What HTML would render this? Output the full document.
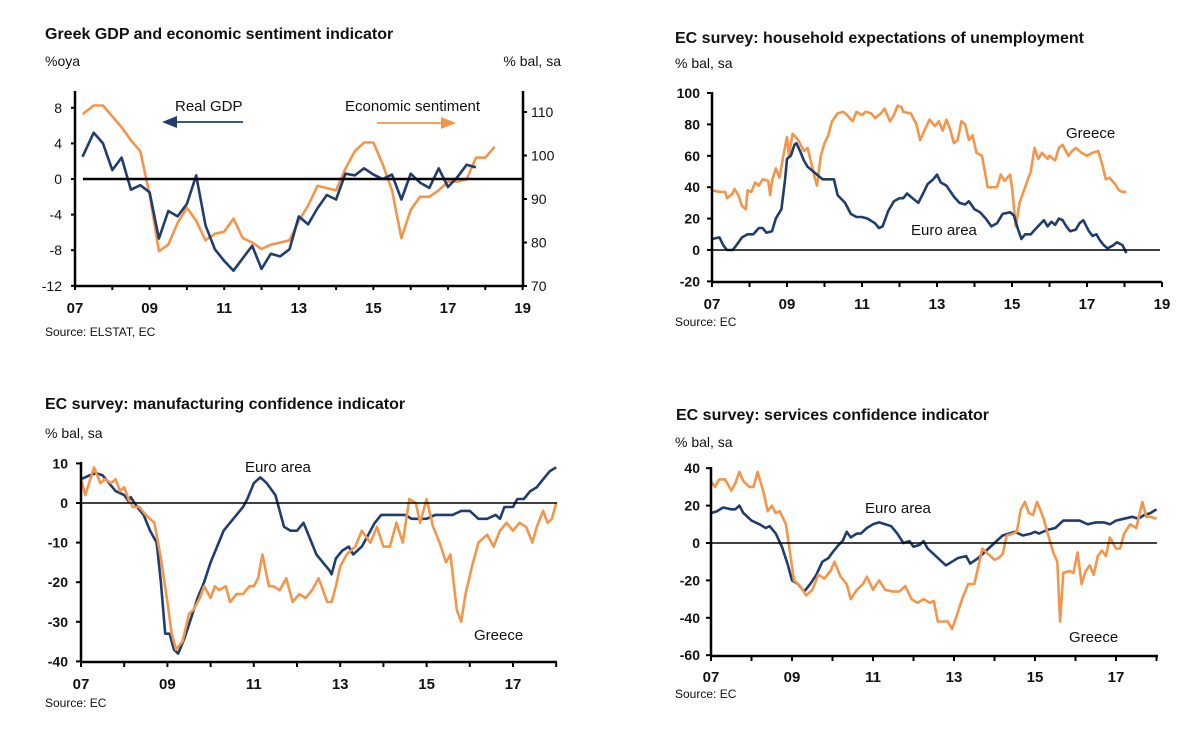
<!DOCTYPE html>
<html><head><meta charset="utf-8">
<style>
html,body{margin:0;padding:0;background:#fff;}
body{width:1200px;height:731px;overflow:hidden;font-family:"Liberation Sans",Arial,sans-serif;}
svg text{font-family:"Liberation Sans",Arial,sans-serif;}
</style></head>
<body>
<svg id="c" width="1200" height="731" viewBox="0 0 1200 731" xmlns="http://www.w3.org/2000/svg"></svg>
<script>
// ---- Panel 1: Greek GDP (quarterly, %oya) and economic sentiment ----
const gdpT = [2007.2,2007.5,2007.75,2008.0,2008.25,2008.5,2008.75,2009.0,2009.25,2009.5,2009.75,2010.0,2010.25,2010.5,2010.75,2011.0,2011.25,2011.5,2011.75,2012.0,2012.25,2012.5,2012.75,2013.0,2013.25,2013.5,2013.75,2014.0,2014.25,2014.5,2014.75,2015.0,2015.25,2015.5,2015.75,2016.0,2016.25,2016.5,2016.75,2017.0,2017.25,2017.5,2017.75];
const gdpV = [2.5,5.2,4.0,1.0,2.4,-1.2,-0.7,-1.5,-6.7,-3.6,-4.2,-2.8,0.4,-5.2,-7.9,-9.2,-10.3,-8.9,-7.5,-10.1,-8.4,-8.7,-7.9,-4.2,-5.1,-3.3,-1.8,-2.3,0.6,0.4,1.2,0.5,0.0,0.5,-2.3,0.6,-0.4,-1.0,1.2,-0.9,0.2,1.6,1.3];
const esiT = [2007.2,2007.5,2007.75,2008.0,2008.25,2008.5,2008.75,2009.0,2009.25,2009.5,2009.75,2010.0,2010.25,2010.5,2010.75,2011.0,2011.25,2011.5,2011.75,2012.0,2012.25,2012.5,2012.75,2013.0,2013.25,2013.5,2013.75,2014.0,2014.25,2014.5,2014.75,2015.0,2015.25,2015.5,2015.75,2016.0,2016.25,2016.5,2016.75,2017.0,2017.25,2017.5,2017.75,2018.0,2018.25];
const esiV = [109.5,111.5,111.5,109,106.5,103.5,101,91,78,79.5,84.5,88,85,80.5,82,82.5,85.5,81,80,78.5,79.5,80,80.5,85,88.5,93,92.5,92,97,101,103,103,98,92,81,87.5,90.5,90.5,92,94,94,94.5,99.5,99.5,102];
const p1LeftTicks = [8,4,0,-4,-8,-12];
const p1RightTicks = [110,100,90,80,70];
const yearTicks = ["07","09","11","13","15","17","19"];

// ---- Panel 2: household unemployment expectations ----
const p2GrT = [7.0,7.2,7.35,7.4,7.55,7.6,7.7,7.8,7.9,7.95,8.05,8.15,8.25,8.35,8.5,8.55,8.6,8.7,8.8,8.9,9.0,9.05,9.15,9.3,9.45,9.55,9.65,9.75,9.8,9.9,10.0,10.1,10.2,10.35,10.5,10.6,10.75,10.85,11.0,11.1,11.25,11.35,11.5,11.6,11.75,11.85,11.95,12.05,12.1,12.3,12.45,12.55,12.7,12.8,12.95,13.05,13.15,13.25,13.35,13.45,13.55,13.65,13.75,13.85,13.95,14.05,14.2,14.35,14.5,14.6,14.7,14.8,14.95,15.0,15.1,15.2,15.35,15.5,15.6,15.7,15.8,15.95,16.0,16.15,16.25,16.35,16.5,16.6,16.7,16.85,17.0,17.15,17.3,17.4,17.5,17.6,17.75,17.85,17.95,18.05];
const p2GrV = [38,37,37,33,36,39,35,28,26,38,37,43,41,45,44,35,44,52,46,60,72,60,74,70,63,65,55,45,41,60,68,73,82,87,88,86,82,88,86,88,87,84,87,90,82,86,92,91,88,87,80,70,78,83,79,82,76,83,77,68,70,82,80,70,73,62,60,40,40,40,48,44,48,40,15,30,40,50,65,58,62,58,60,57,65,67,60,63,65,62,60,62,63,55,45,46,42,38,37,37];
const p2EaT = [7.0,7.2,7.3,7.4,7.55,7.65,7.8,7.95,8.1,8.25,8.35,8.45,8.6,8.7,8.85,8.95,9.0,9.1,9.2,9.25,9.35,9.45,9.55,9.7,9.85,9.95,10.1,10.25,10.35,10.55,10.7,10.85,11.0,11.15,11.35,11.45,11.55,11.7,11.85,12.0,12.1,12.2,12.35,12.5,12.65,12.75,12.9,13.0,13.1,13.25,13.45,13.6,13.75,13.85,14.0,14.15,14.3,14.45,14.6,14.75,14.95,15.05,15.15,15.25,15.35,15.5,15.65,15.85,15.95,16.05,16.15,16.25,16.35,16.45,16.55,16.7,16.8,16.9,17.05,17.15,17.25,17.35,17.45,17.55,17.7,17.8,17.95,18.05];
const p2EaV = [7,8,3,0,0,3,8,10,10,14,14,11,12,20,26,45,58,60,67,68,63,57,53,50,47,45,45,45,35,30,23,21,21,20,17,14,15,25,31,33,33,36,33,30,37,42,45,48,43,41,34,30,29,31,26,24,20,15,17,23,24,22,14,7,10,10,14,19,15,18,16,20,19,15,12,13,17,19,12,9,10,6,3,1,3,5,3,-2];
const p2Ticks = [100,80,60,40,20,0,-20];

// ---- Panel 3: manufacturing confidence ----
const p3EaT = [7.0,7.2,7.35,7.5,7.65,7.8,8.0,8.1,8.15,8.3,8.45,8.6,8.75,8.85,8.95,9.05,9.15,9.25,9.4,9.55,9.7,9.85,10.0,10.15,10.3,10.45,10.6,10.75,10.85,11.0,11.15,11.3,11.5,11.6,11.7,11.85,12.0,12.15,12.3,12.45,12.6,12.75,12.8,12.9,13.05,13.2,13.3,13.5,13.65,13.8,13.95,14.1,14.3,14.5,14.65,14.85,15.0,15.2,15.4,15.6,15.8,16.0,16.2,16.4,16.6,16.7,16.8,17.0,17.1,17.25,17.4,17.55,17.7,17.85,18.0];
const p3EaV = [6,7,7.5,7,5,3,2,0.5,1.5,-1,-3,-7,-10,-20,-33,-33,-37,-38,-34,-29,-24,-20,-15,-11,-7,-5,-3,-1,1,5,6.5,5,2,-2,-6,-7,-7,-5,-9,-13,-15,-17,-18,-14,-12,-11,-13,-11,-8,-5,-3,-3,-3,-3,-4,-4,-4,-3,-3,-3,-2,-2,-4,-4,-3,-4,-1,-1,1,1,3,4,6,8,9];
const p3GrT = [7.0,7.1,7.3,7.45,7.55,7.7,7.8,7.9,8.0,8.1,8.2,8.35,8.5,8.7,8.85,9.0,9.1,9.2,9.35,9.5,9.6,9.75,9.85,10.0,10.1,10.2,10.35,10.45,10.6,10.75,10.9,11.0,11.1,11.2,11.35,11.45,11.6,11.75,11.9,12.05,12.2,12.35,12.5,12.7,12.8,12.9,13.0,13.15,13.35,13.5,13.7,13.85,14.0,14.15,14.3,14.45,14.6,14.75,14.85,15.0,15.15,15.3,15.45,15.55,15.7,15.8,15.9,16.05,16.2,16.4,16.55,16.7,16.85,17.0,17.15,17.3,17.45,17.55,17.7,17.8,17.9,18.0];
const p3GrV = [6,2,9,5,6,5,6,3,4,1,-1,-1,-3,-5,-14,-25,-33,-37,-35,-28,-27,-24,-21,-24,-21,-22,-21,-25,-23,-23,-21,-21,-19,-13,-21,-21,-22,-19,-25,-23,-24,-22,-19,-25,-25,-21,-16,-13,-11,-7,-10,-6,-11,-11,-5,-10,1,0,-5,1,-6,-10,-15,-13,-27,-30,-23,-16,-10,-8,-11,-7,-5,-7,-5,-6,-10,-6,-2,-5,-4,0];
const p3Ticks = [10,0,-10,-20,-30,-40];
const yearTicks2 = ["07","09","11","13","15","17"];

// ---- Panel 4: services confidence ----
const p4EaT = [7.0,7.15,7.3,7.5,7.6,7.7,7.8,8.0,8.2,8.35,8.45,8.6,8.75,8.9,9.0,9.15,9.3,9.45,9.6,9.75,9.9,10.0,10.15,10.25,10.35,10.45,10.6,10.7,10.85,11.0,11.15,11.3,11.45,11.6,11.75,11.9,12.0,12.15,12.25,12.35,12.5,12.65,12.8,12.95,13.1,13.3,13.4,13.6,13.8,14.0,14.2,14.35,14.5,14.7,14.9,15.0,15.1,15.3,15.5,15.7,15.9,16.1,16.3,16.5,16.7,16.85,17.0,17.2,17.4,17.55,17.7,17.85,18.0];
const p4EaV = [16,17,19,18,18,20,16,12,10,8,9,5,-2,-12,-20,-22,-26,-22,-17,-10,-8,-5,-1,1,6,3,5,5,8,10,11,10,9,5,0,1,-2,-1,1,-3,-6,-9,-12,-10,-8,-7,-11,-8,-4,0,4,5,6,4,5,6,5,7,8,12,12,12,10,11,11,10,12,13,14,13,15,16,18];
const p4GrT = [7.0,7.1,7.2,7.35,7.5,7.6,7.7,7.8,7.95,8.05,8.15,8.3,8.4,8.5,8.6,8.7,8.85,8.95,9.05,9.2,9.35,9.5,9.65,9.8,9.95,10.05,10.2,10.35,10.45,10.6,10.75,10.85,11.0,11.15,11.3,11.5,11.65,11.8,11.95,12.1,12.25,12.4,12.5,12.6,12.75,12.85,12.95,13.05,13.2,13.35,13.5,13.7,13.85,14.0,14.1,14.2,14.3,14.45,14.55,14.65,14.75,14.85,14.95,15.05,15.2,15.3,15.45,15.55,15.62,15.7,15.85,15.95,16.05,16.15,16.25,16.35,16.45,16.55,16.65,16.75,16.85,17.0,17.1,17.2,17.35,17.5,17.65,17.75,17.85,18.0];
const p4GrV = [33,30,34,34,28,32,38,33,30,30,38,27,17,20,16,17,10,-5,-20,-23,-28,-25,-17,-19,-15,-10,-18,-22,-30,-25,-22,-18,-25,-20,-25,-26,-26,-23,-30,-32,-30,-32,-31,-42,-42,-42,-46,-40,-30,-22,-22,-3,-6,-9,-8,-6,4,5,6,18,22,16,15,22,14,6,-5,-10,-42,-16,-15,-16,-5,-22,-15,-12,-17,-7,-4,-7,3,-3,-3,5,10,8,22,14,14,13];
const p4Ticks = [40,20,0,-20,-40,-60];

const NAVY = "#1f3d6e", ORANGE = "#f5954a";
const svg = document.getElementById('c');
const NS = "http://www.w3.org/2000/svg";
function mk(tag, attrs, parent){
  const e = document.createElementNS(NS, tag);
  for (const k in attrs) e.setAttribute(k, attrs[k]);
  (parent||svg).appendChild(e);
  return e;
}
function txt(x,y,s,size,anchor,weight,name){
  const t = mk('text',{x:x,y:y,'font-size':size,'text-anchor':anchor||'start','font-weight':weight||'normal',fill:'#111'});
  t.textContent = s;
  
  
  return t;
}
function line(x1,y1,x2,y2,w,col,name){
  const l = mk('line',{x1:x1,y1:y1,x2:x2,y2:y2,stroke:col||'#000','stroke-width':w});
  
  
  return l;
}
function series(ts, vs, xf, yf, col, name){
  let d = '';
  for (let i=0;i<ts.length;i++) d += (i?'L':'M') + xf(ts[i]).toFixed(1) + ' ' + yf(vs[i]).toFixed(1);
  const p = mk('path',{d:d,fill:'none',stroke:col,'stroke-width':2.6,'stroke-linejoin':'round'});
  
  
  return p;
}

// ===== Panel 1 =====
{
  const x0=75, pxy=37.3;
  const xf = t => x0 + (t-2007)*pxy;
  const yl = v => 179 - v*8.9;
  const yr = v => 286 - (v-70)*4.35;
  txt(45,39,"Greek GDP and economic sentiment indicator",16,'start','bold','p1-title');
  txt(45,66,"%oya",14,'start','normal','p1-left-unit');
  txt(561,66,"% bal, sa",14,'end','normal','p1-right-unit');
  series(esiT, esiV, xf, yr, ORANGE, 'p1-sentiment-line');
  series(gdpT, gdpV, xf, yl, NAVY, 'p1-gdp-line');
  line(83,yl(0),522,yl(0),2.5,'#000','p1-zero-line');
  line(75,91,75,286,2.5,'#000','p1-left-axis');
  line(523,91,523,287,2.5,'#000','p1-right-axis');
  line(74,286,524,286,2.5,'#000','p1-x-axis');
  p1LeftTicks.forEach(v=>{ line(71,yl(v),75,yl(v),2,'#000','p1-left-tick'); txt(62,yl(v)+5,String(v),14,'end','normal','p1-left-tick-label'); });
  p1RightTicks.forEach(v=>{ line(523,yr(v),527,yr(v),2,'#000','p1-right-tick'); txt(531,yr(v)+5,String(v),14,'start','normal','p1-right-tick-label'); });
  for (let y=2007;y<=2019;y++) line(xf(y),286,xf(y),290,2,'#000','p1-x-tick');
  yearTicks.forEach((s,i)=> txt(xf(2007+2*i),313,s,15,'middle','bold','p1-x-tick-label'));
  txt(45,336,"Source: ELSTAT, EC",12,'start','normal','p1-source');
  txt(175,111,"Real GDP",15,'start','normal','p1-gdp-legend');
  line(172,122,243,122,1.8,NAVY,'p1-gdp-arrow-shaft');
  const a1 = mk('polygon',{points:"162,122 177,116 177,128",fill:NAVY});  
  txt(345,111,"Economic sentiment",15,'start','normal','p1-sentiment-legend');
  line(377,123,445,123,1.8,ORANGE,'p1-sentiment-arrow-shaft');
  const a2 = mk('polygon',{points:"456,123 441,117 441,129",fill:ORANGE});  
}

// ===== Panel 2 =====
{
  const x0=712, pxy=37.5;
  const xf = t => x0 + (t-7)*pxy;
  const xfy = y => x0 + (y-2007)*pxy;
  const yf = v => 250 - v*1.57;
  txt(675,43,"EC survey: household expectations of unemployment",16,'start','bold','p2-title');
  txt(675,68,"% bal, sa",14,'start','normal','p2-unit');
  series(p2GrT, p2GrV, xf, yf, ORANGE, 'p2-greece-line');
  series(p2EaT, p2EaV, xf, yf, NAVY, 'p2-euro-area-line');
  line(712,yf(0),1160,yf(0),1.6,'#000','p2-zero-line');
  line(712,92,712,282,2.5,'#000','p2-y-axis');
  line(711,282,1162,282,2.5,'#000','p2-x-axis');
  p2Ticks.forEach(v=>{ line(707,yf(v),712,yf(v),2,'#000','p2-y-tick'); txt(700,yf(v)+5,String(v),14,'end','bold','p2-y-tick-label'); });
  for (let y=2007;y<=2019;y++) line(xfy(y),282,xfy(y),287,2,'#000','p2-x-tick');
  yearTicks.forEach((s,i)=> txt(xfy(2007+2*i),309,s,15,'middle','bold','p2-x-tick-label'));
  txt(675,326,"Source: EC",12,'start','normal','p2-source');
  txt(1066,138,"Greece",15,'start','normal','p2-greece-label');
  txt(911,235,"Euro area",15,'start','normal','p2-euro-area-label');
}

// ===== Panel 3 =====
{
  const x0=81, pxy=43.2;
  const xf = t => x0 + (t-7)*pxy;
  const xfy = y => x0 + (y-2007)*pxy;
  const yf = v => 503 - v*3.96;
  txt(45,409,"EC survey: manufacturing confidence indicator",16,'start','bold','p3-title');
  txt(45,438,"% bal, sa",14,'start','normal','p3-unit');
  series(p3EaT, p3EaV, xf, yf, NAVY, 'p3-euro-area-line');
  series(p3GrT, p3GrV, xf, yf, ORANGE, 'p3-greece-line');
  line(81,yf(0),557,yf(0),1.6,'#000','p3-zero-line');
  line(81,462,81,662,2.5,'#000','p3-y-axis');
  line(80,662,557,662,2.5,'#000','p3-x-axis');
  p3Ticks.forEach(v=>{ line(76,yf(v),81,yf(v),2,'#000','p3-y-tick'); txt(68,yf(v)+5,String(v),14,'end','bold','p3-y-tick-label'); });
  for (let y=2007;y<=2018;y++) line(xfy(y),662,xfy(y),667,2,'#000','p3-x-tick');
  yearTicks2.forEach((s,i)=> txt(xfy(2007+2*i),689,s,15,'middle','bold','p3-x-tick-label'));
  txt(45,707,"Source: EC",12,'start','normal','p3-source');
  txt(245,472,"Euro area",15,'start','normal','p3-euro-area-label');
  txt(474,640,"Greece",15,'start','normal','p3-greece-label');
}

// ===== Panel 4 =====
{
  const x0=711, pxy=40.5;
  const xf = t => x0 + (t-7)*pxy;
  const xfy = y => x0 + (y-2007)*pxy;
  const yf = v => 543 - v*1.87;
  txt(676,420,"EC survey: services confidence indicator",16,'start','bold','p4-title');
  txt(675,447,"% bal, sa",14,'start','normal','p4-unit');
  series(p4EaT, p4EaV, xf, yf, NAVY, 'p4-euro-area-line');
  series(p4GrT, p4GrV, xf, yf, ORANGE, 'p4-greece-line');
  line(711,yf(0),1157,yf(0),1.6,'#000','p4-zero-line');
  line(711,467,711,656,2.5,'#000','p4-y-axis');
  line(710,656,1158,656,2.5,'#000','p4-x-axis');
  p4Ticks.forEach(v=>{ line(706,yf(v),711,yf(v),2,'#000','p4-y-tick'); txt(700,yf(v)+5,String(v),14,'end','bold','p4-y-tick-label'); });
  for (let y=2007;y<=2018;y++) line(xfy(y),656,xfy(y),661,2,'#000','p4-x-tick');
  yearTicks2.forEach((s,i)=> txt(xfy(2007+2*i),682,s,15,'middle','bold','p4-x-tick-label'));
  txt(675,698,"Source: EC",12,'start','normal','p4-source');
  txt(865,513,"Euro area",15,'start','normal','p4-euro-area-label');
  txt(1069,642,"Greece",15,'start','normal','p4-greece-label');
}
</script>
</body></html>
